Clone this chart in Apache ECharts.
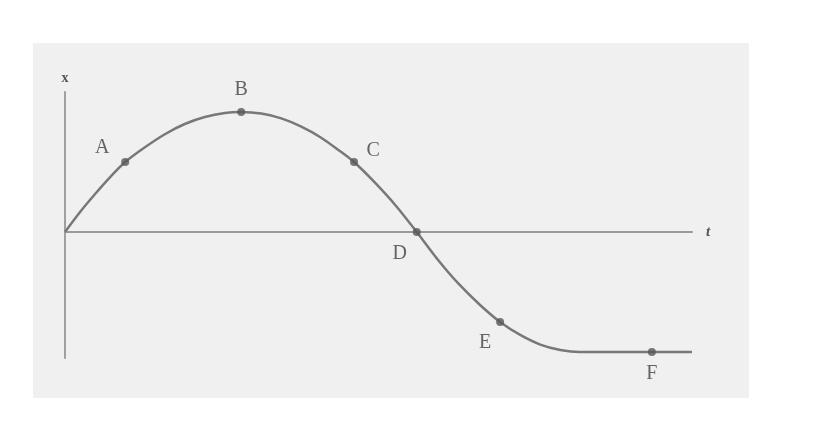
<!DOCTYPE html>
<html>
<head>
<meta charset="utf-8">
<script src="https://cdn.jsdelivr.net/npm/echarts@6/dist/echarts.min.js"></script>
<style>html,body{margin:0;padding:0;background:#fff;}#c{width:820px;height:434px;}</style>
</head>
<body>
<div id="c"></div>
<script>
// curve samples (t, x)
var curveT = [0,0.24,0.48,0.72,0.96,1.28,1.60,1.91,2.23,2.55,2.81,3.13,3.45,3.76,4.08,4.40,4.61,4.94,5.28,5.61,5.95,6.28,6.62,6.94,7.26,7.58,7.90,8.21,8.85,9.36,10];
var curveX = [0,0.167,0.317,0.458,0.583,0.708,0.817,0.9,0.958,0.992,1,0.987,0.947,0.88,0.788,0.668,0.583,0.413,0.217,0,-0.233,-0.433,-0.608,-0.75,-0.858,-0.938,-0.983,-1,-1,-1,-1];
// labelled points
var pointNames = ['A','B','C','D','E','F'];
var pointT = [0.96,2.81,4.61,5.61,6.94,9.36];
var pointX = [0.583,1,0.583,0,-0.75,-1];
var xAxisName = 't';
var yAxisName = 'x';

var labelOffsets = {A:[-23,-14],B:[0,-22],C:[19,-11],D:[-17,22],E:[-15,21],F:[0,22]};

var chart = echarts.init(document.getElementById('c'), null, {renderer:'canvas'});
var option = {
  animation: false,
  backgroundColor: '#ffffff',
  graphic: [{
    type: 'rect', z: -10, silent: true,
    shape: {x: 33, y: 43, width: 716, height: 355},
    style: {fill: '#f0f0f0'}
  }],
  grid: {left: 65, top: 92, width: 627, height: 266},
  xAxis: {
    type: 'value', min: 0, max: 10,
    axisLine: {show: true, onZero: true, lineStyle: {color: '#9a9a9a', width: 2}},
    axisTick: {show: false}, axisLabel: {show: false}, splitLine: {show: false},
    name: xAxisName, nameLocation: 'end', nameGap: 14,
    nameTextStyle: {fontFamily: 'Liberation Serif', fontStyle: 'italic', fontWeight: 'bold', fontSize: 15, color: '#555', verticalAlign: 'middle'}
  },
  yAxis: {
    type: 'value', min: -1.05, max: 1.1667,
    axisLine: {show: true, onZero: false, lineStyle: {color: '#a0a0a0', width: 2}},
    axisTick: {show: false}, axisLabel: {show: false}, splitLine: {show: false},
    name: yAxisName, nameLocation: 'end', nameGap: 7,
    nameTextStyle: {fontFamily: 'Liberation Serif', fontWeight: 'bold', fontSize: 14, color: '#555', align: 'center'}
  },
  series: [{
    type: 'line',
    data: curveT.map(function(t, i){ return [t, curveX[i]]; }),
    smooth: 0.3,
    showSymbol: false,
    lineStyle: {color: '#787878', width: 2.5},
    z: 2
  }, {
    type: 'scatter',
    data: pointT.map(function(t, i){
      var off = labelOffsets[pointNames[i]];
      return {value: [t, pointX[i]], name: pointNames[i], label: {offset: off}};
    }),
    symbol: 'circle',
    symbolSize: 8,
    itemStyle: {color: '#585858'},
    label: {
      show: true, position: 'inside',
      formatter: function(p){ return p.name; },
      fontFamily: 'Liberation Serif', fontSize: 20, color: '#404040'
    },
    z: 3
  }]
};
chart.setOption(option);
</script>
</body>
</html>
